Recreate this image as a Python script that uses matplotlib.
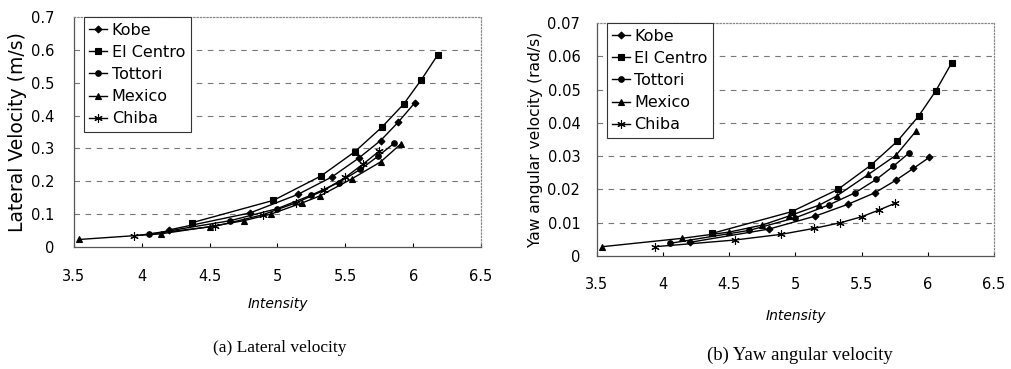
import numpy as np
import matplotlib.pyplot as plt

plt.rcParams['font.family'] = ['DejaVu Sans']

# intensity values (x) and responses
kobe_x = [4.20, 4.80, 5.15, 5.40, 5.60, 5.76, 5.89, 6.01]
kobe_lat = [0.052, 0.104, 0.160, 0.213, 0.271, 0.324, 0.380, 0.438]
kobe_yaw = [0.0041, 0.0081, 0.0120, 0.0156, 0.0190, 0.0228, 0.0263, 0.0296]

elcentro_x = [4.37, 4.97, 5.32, 5.57, 5.77, 5.93, 6.06, 6.18]
elcentro_lat = [0.074, 0.142, 0.216, 0.290, 0.365, 0.435, 0.509, 0.584]
elcentro_yaw = [0.0068, 0.0133, 0.0200, 0.0273, 0.0345, 0.0420, 0.0496, 0.0580]

tottori_x = [4.05, 4.65, 5.00, 5.25, 5.45, 5.61, 5.74, 5.86]
tottori_lat = [0.039, 0.080, 0.117, 0.158, 0.196, 0.236, 0.276, 0.316]
tottori_yaw = [0.0038, 0.0077, 0.0115, 0.0153, 0.0190, 0.0230, 0.0270, 0.0310]

mexico_x = [3.54, 4.14, 4.50, 4.75, 4.95, 5.18, 5.31, 5.55, 5.76, 5.91]
mexico_lat = [0.023, 0.040, 0.062, 0.080, 0.100, 0.134, 0.155, 0.208, 0.259, 0.314]
mexico_yaw = [0.0028, 0.0053, 0.0072, 0.0093, 0.0120, 0.0153, 0.0180, 0.0245, 0.0303, 0.0375]

chiba_x = [3.94, 4.54, 4.89, 5.14, 5.34, 5.50, 5.63, 5.75]
chiba_lat = [0.034, 0.063, 0.098, 0.135, 0.172, 0.212, 0.252, 0.292]
chiba_yaw = [0.0028, 0.0048, 0.0065, 0.0083, 0.0100, 0.0118, 0.0138, 0.0158]

x_ticks = [3.5, 4, 4.5, 5, 5.5, 6, 6.5]
x_ticklabels = ['3.5', '4', '4.5', '5', '5.5', '6', '6.5']
lat_ticks = [0, 0.1, 0.2, 0.3, 0.4, 0.5, 0.6, 0.7]
lat_ticklabels = ['0', '0.1', '0.2', '0.3', '0.4', '0.5', '0.6', '0.7']
yaw_ticks = [0, 0.01, 0.02, 0.03, 0.04, 0.05, 0.06, 0.07]
yaw_ticklabels = ['0', '0.01', '0.02', '0.03', '0.04', '0.05', '0.06', '0.07']

names = ['Kobe', 'El Centro', 'Tottori', 'Mexico', 'Chiba']
markers = ['D', 's', 'o', '^', (6, 2, 0)]
msizes = [3.5, 4, 4, 4.5, 6]

fig = plt.figure(figsize=(10.12, 3.69), dpi=100)
ax1 = fig.add_axes([0.0731, 0.3306, 0.4022, 0.6233])
ax2 = fig.add_axes([0.5899, 0.3062, 0.3923, 0.6314])


def draw(ax, xs, ys, ticks, ticklabels, ylabel, ylabsize, xpad, ypad):
    for ticky in ticks[1:-1]:
        ax.axhline(ticky, color='#777777', lw=0.8, ls=(0, (5, 5)), zorder=1)
    for x, y, n, m, s in zip(xs, ys, names, markers, msizes):
        ax.plot(x, y, color='black', lw=1.0, marker=m, ms=s, mfc='black',
                mec='black', mew=0.8, label=n, zorder=3)
    ax.set_xlim(3.5, 6.5)
    ax.set_ylim(ticks[0], ticks[-1])
    ax.set_xticks(x_ticks)
    ax.set_xticklabels(x_ticklabels)
    ax.set_yticks(ticks)
    ax.set_yticklabels(ticklabels)
    ax.tick_params(axis='x', direction='in', length=3, pad=xpad, labelsize=10.5)
    ax.tick_params(axis='y', direction='in', length=0, pad=ypad, labelsize=10.5)
    for side in ['top', 'right']:
        ax.spines[side].set_linestyle(':')
        ax.spines[side].set_color('#888888')
        ax.spines[side].set_linewidth(0.9)
    for side in ['left', 'bottom']:
        ax.spines[side].set_color('#555555')
        ax.spines[side].set_linewidth(0.9)
    ax.set_ylabel(ylabel, fontsize=ylabsize, labelpad=3)
    leg = ax.legend(loc='upper left', bbox_to_anchor=(0.024, 1.0), borderaxespad=0,
                    fontsize=11.5, handlelength=1.1, handletextpad=0.3,
                    labelspacing=0.45, borderpad=0.35, fancybox=False,
                    framealpha=1, edgecolor='#333333')
    leg.get_frame().set_linewidth(0.8)


draw(ax1, [kobe_x, elcentro_x, tottori_x, mexico_x, chiba_x],
     [kobe_lat, elcentro_lat, tottori_lat, mexico_lat, chiba_lat],
     lat_ticks, lat_ticklabels, 'Lateral Velocity (m/s)', 13.5, 16, 14)
draw(ax2, [kobe_x, elcentro_x, tottori_x, mexico_x, chiba_x],
     [kobe_yaw, elcentro_yaw, tottori_yaw, mexico_yaw, chiba_yaw],
     yaw_ticks, yaw_ticklabels, 'Yaw angular velocity (rad/s)', 11.2, 15, 12)

ax1.set_xlabel('Intensity', fontsize=10, style='italic', labelpad=9)
ax2.set_xlabel('Intensity', fontsize=10, style='italic', labelpad=12)

fig.text(280 / 1012, 1 - 348 / 369, '(a) Lateral velocity', family='Liberation Serif',
         fontsize=12.5, ha='center', va='center')
fig.text(800 / 1012, 1 - 355 / 369, '(b) Yaw angular velocity', family='Liberation Serif',
         fontsize=13.5, ha='center', va='center')

fig.savefig('out.png', dpi=100)
